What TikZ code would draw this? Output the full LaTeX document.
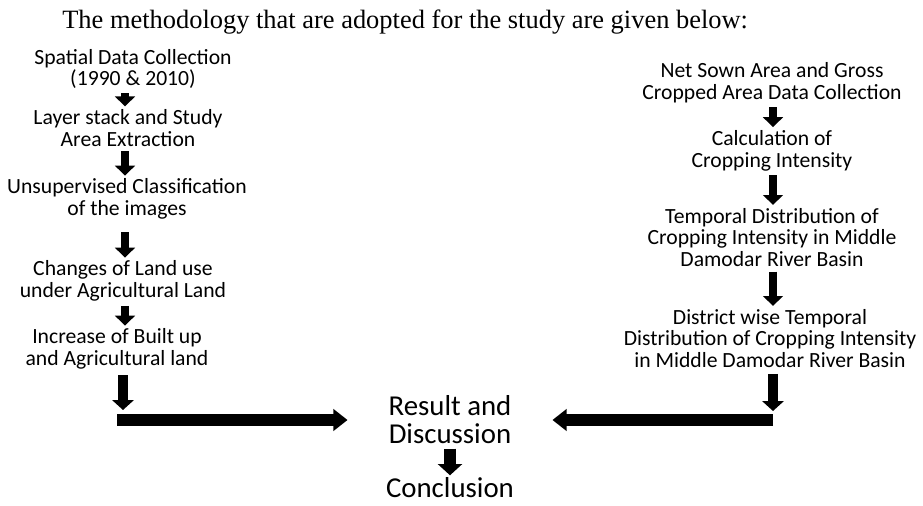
\documentclass[tikz,border=0pt]{standalone}
\usepackage{fontspec}
\setmainfont{Liberation Serif}
\newfontfamily\calib{Carlito}
\usetikzlibrary{arrows.meta}

\tikzset{
  stage/.style={font=\calib\fontsize{15.4}{15.6}\selectfont, align=center, inner sep=1pt},
  final/.style={font=\calib\fontsize{20.5}{20}\selectfont, align=center, inner sep=1pt},
  flowarr/.style={line width=5.5pt, -{Triangle[width=14pt, length=7pt]}, shorten <=2pt, shorten >=1pt},
  footarr/.style={line width=7pt, -{Triangle[width=15pt, length=7pt]}},
  joinarr/.style={line width=8.5pt, -{Triangle[width=15pt, length=10pt]}},
  endarr/.style={line width=8pt, -{Triangle[width=17pt, length=8pt]}, shorten <=2pt}
}

\begin{document}
\begin{tikzpicture}[x=0.025cm, y=-0.025cm]
	\useasboundingbox (0,0) rectangle (923,506);
	\node[anchor=base west, inner sep=0, font=\fontsize{18.8}{20}\selectfont] (title) at (62,28)
		{The methodology that are adopted for the study are given below:};

	% left column
	\node[stage] (spatial) at (133,69) {Spatial Data Collection\\(1990 \& 2010)};
	\node[stage] (layer) at (128,128) {Layer stack and Study\\Area Extraction};
	\node[stage] (unsup) at (127,199) {Unsupervised Classification\\of the images};
	\node[stage] (changes) at (123,281) {Changes of Land use\\under Agricultural Land};
	\node[stage] (increase) at (117,349) {Increase of Built up\\and Agricultural land};

	% right column
	\node[stage] (netsown) at (772,82.5) {Net Sown Area and Gross\\Cropped Area Data Collection};
	\node[stage] (calc) at (772,150.5) {Calculation of\\Cropping Intensity};
	\node[stage] (temporal) at (772,237.5) {Temporal Distribution of\\Cropping Intensity in Middle\\Damodar River Basin};
	\node[stage] (district) at (770,338.5) {District wise Temporal\\Distribution of Cropping Intensity\\in Middle Damodar River Basin};

	% centre
	\node[final] (result) at (450,420) {Result and\\Discussion};
	\node[final, anchor=base] (concl) at (450,497) {Conclusion};

	% arrow columns and free ends
	\coordinate (lcol) at (125,0);
	\coordinate (rcol) at (773,0);
	\coordinate (lfoot) at (123,410);
	\coordinate (lstart) at (117,420);
	\coordinate (rfoot) at (773,411);
	\coordinate (rstart) at (773,420);

	\draw[flowarr] (spatial.south -| lcol) -- (layer.north -| lcol);
	\draw[flowarr] (layer.south -| lcol) -- (unsup.north -| lcol);
	\draw[flowarr, shorten <=8pt] (unsup.south -| lcol) -- (changes.north -| lcol);
	\draw[flowarr] (changes.south -| lcol) -- (increase.north -| lcol);
	\draw[footarr, shorten <=3pt] (increase.south -| lfoot) -- (lfoot);
	\draw[joinarr, shorten >=28pt] (lstart) -- (result.west);

	\draw[flowarr] (netsown.south -| rcol) -- (calc.north -| rcol);
	\draw[flowarr] (calc.south -| rcol) -- (temporal.north -| rcol);
	\draw[flowarr] (temporal.south -| rcol) -- (district.north -| rcol);
	\draw[footarr, shorten <=3pt] (district.south -| rfoot) -- (rfoot);
	\draw[joinarr, shorten >=28pt] (rstart) -- (result.east);

	\draw[endarr] (result.south) -- (concl.north);
\end{tikzpicture}
\end{document}
